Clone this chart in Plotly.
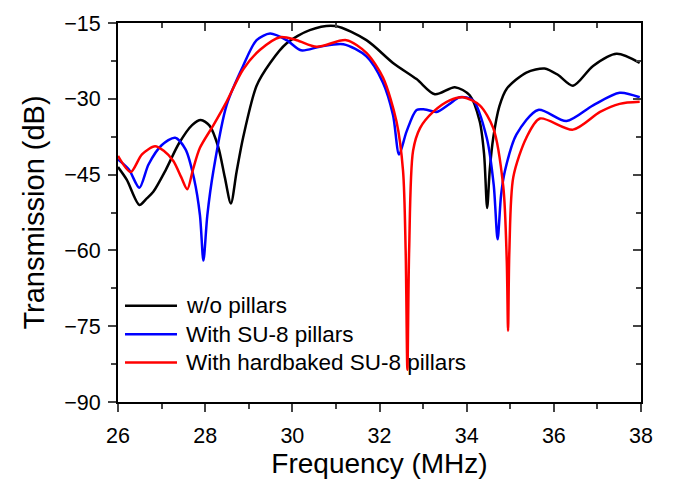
import plotly.graph_objects as go

freq_black = [26.0, 26.2, 26.49, 26.65, 26.81, 27.1, 27.4, 27.7, 27.9, 28.1, 28.3, 28.45, 28.59, 28.72, 28.87, 29.18, 29.49, 29.87, 30.4, 30.98, 31.7, 32.31, 32.85, 33.27, 33.73, 34.07, 34.3, 34.4, 34.47, 34.53, 34.61, 34.75, 34.92, 35.37, 35.79, 36.1, 36.44, 36.9, 37.44, 37.97]
db_black = [-43.5, -46.0, -51.0, -49.8, -48.4, -44.0, -38.8, -35.2, -34.2, -35.3, -39.5, -45.5, -50.7, -44.5, -37.7, -27.4, -22.9, -19.0, -16.4, -15.6, -18.4, -22.9, -26.1, -29.1, -27.7, -29.3, -34.5, -41.0, -51.6, -44.0, -37.7, -31.5, -28.0, -24.8, -24.0, -25.3, -27.4, -23.5, -21.1, -22.9]

freq_blue = [26.0, 26.25, 26.49, 26.7, 27.0, 27.31, 27.55, 27.75, 27.88, 27.96, 28.05, 28.19, 28.49, 28.87, 29.18, 29.49, 29.87, 30.2, 30.63, 31.17, 31.7, 32.08, 32.31, 32.45, 32.62, 32.85, 33.04, 33.31, 33.61, 33.84, 34.15, 34.46, 34.62, 34.71, 34.79, 34.88, 35.14, 35.64, 36.29, 36.9, 37.51, 37.97]
db_blue = [-42.0, -44.0, -47.6, -43.0, -39.2, -37.7, -40.0, -46.0, -53.0, -62.0, -53.0, -44.2, -31.3, -23.5, -18.4, -17.1, -18.4, -20.4, -19.7, -19.2, -21.6, -26.8, -33.2, -41.0, -36.5, -32.2, -32.1, -32.6, -31.0, -29.7, -30.3, -37.7, -47.0, -57.8, -49.0, -44.2, -37.1, -32.2, -34.4, -31.3, -28.8, -29.7]

freq_red = [26.0, 26.29, 26.55, 26.85, 27.05, 27.27, 27.45, 27.59, 27.72, 27.88, 28.19, 28.49, 28.87, 29.26, 29.72, 30.1, 30.56, 31.24, 31.7, 32.08, 32.39, 32.54, 32.6, 32.64, 32.68, 32.77, 32.93, 33.23, 33.61, 33.92, 34.3, 34.61, 34.84, 34.92, 34.95, 34.98, 35.07, 35.37, 35.68, 36.44, 37.06, 37.51, 37.97]
db_red = [-41.3, -44.5, -41.0, -39.4, -40.3, -42.3, -45.5, -47.9, -44.0, -39.7, -35.2, -30.6, -24.2, -20.3, -17.8, -18.4, -19.7, -18.4, -20.9, -25.8, -34.5, -44.2, -60.0, -83.6, -60.0, -40.3, -35.8, -32.6, -30.3, -29.7, -31.3, -35.8, -47.4, -62.0, -75.9, -60.0, -45.5, -37.7, -33.9, -36.1, -32.6, -31.0, -30.6]

x_ticks = [26, 28, 30, 32, 34, 36, 38]
y_ticks = [-15, -30, -45, -60, -75, -90]
y_tick_text = ["\u221215", "\u221230", "\u221245", "\u221260", "\u221275", "\u221290"]

series = [
    ("w/o pillars", freq_black, db_black, "black"),
    ("With SU-8 pillars", freq_blue, db_blue, "#0000ff"),
    ("With hardbaked SU-8 pillars", freq_red, db_red, "#ff0000"),
]

font = "Liberation Sans, Arial, sans-serif"
fig = go.Figure()
legend_rows = [0.254, 0.179, 0.104]
for (name, xs, ys, col), ly in zip(series, legend_rows):
    fig.add_trace(go.Scatter(x=xs, y=ys, mode="lines", name=name, showlegend=False,
                             line=dict(color=col, width=2.5, shape="spline", smoothing=0.8)))
    fig.add_shape(type="line", xref="paper", yref="paper", x0=0.0134, x1=0.1128, y0=ly, y1=ly,
                  line=dict(color=col, width=2.5))
    fig.add_annotation(text=name, xref="paper", yref="paper", x=0.126, y=ly, xanchor="left",
                       yanchor="middle", showarrow=False, font=dict(size=22.5, family=font, color="black"))

fig.update_layout(
    width=677, height=487,
    margin=dict(l=118, r=36, t=16, b=85),
    paper_bgcolor="white", plot_bgcolor="white",
    font=dict(family=font, size=21, color="black"),
    showlegend=False,
    xaxis=dict(range=[26, 38], tickvals=x_ticks, ticks="outside", ticklen=8, tickwidth=2,
               showline=True, linewidth=2, linecolor="black", showgrid=False, zeroline=False,
               tickfont=dict(size=21.5), ticklabelstandoff=5,
               minor=dict(dtick=1, ticks="outside", ticklen=5, tickwidth=2, tick0=26),
               title=dict(text="Frequency (MHz)", font=dict(size=28), standoff=6)),
    yaxis=dict(range=[-90, -15], tickvals=y_ticks, ticktext=y_tick_text, ticks="outside",
               ticklen=8, tickwidth=2, showline=True, linewidth=2, linecolor="black",
               showgrid=False, zeroline=False, tickfont=dict(size=21.5), ticklabelstandoff=3,
               minor=dict(dtick=7.5, tick0=-90, ticks="outside", ticklen=5, tickwidth=2),
               title=dict(text="Transmission (dB)", font=dict(size=29), standoff=11)),
    xaxis2=dict(range=[26, 38], overlaying="x", side="top", tickvals=x_ticks, ticks="inside",
                ticklen=8, tickwidth=2, showticklabels=False, showline=True, linewidth=2,
                linecolor="black", showgrid=False, zeroline=False,
                minor=dict(dtick=1, tick0=26, ticks="inside", ticklen=5, tickwidth=2)),
    yaxis2=dict(range=[-90, -15], overlaying="y", side="right", tickvals=y_ticks, ticks="inside",
                ticklen=8, tickwidth=2, showticklabels=False, showline=True, linewidth=2,
                linecolor="black", showgrid=False, zeroline=False,
                minor=dict(dtick=7.5, tick0=-90, ticks="inside", ticklen=5, tickwidth=2)),
)
fig.add_trace(go.Scatter(x=[26], y=[-90], xaxis="x2", yaxis="y2", mode="markers",
                         marker=dict(opacity=0), showlegend=False, hoverinfo="skip"))

fig.write_html("out.html")
